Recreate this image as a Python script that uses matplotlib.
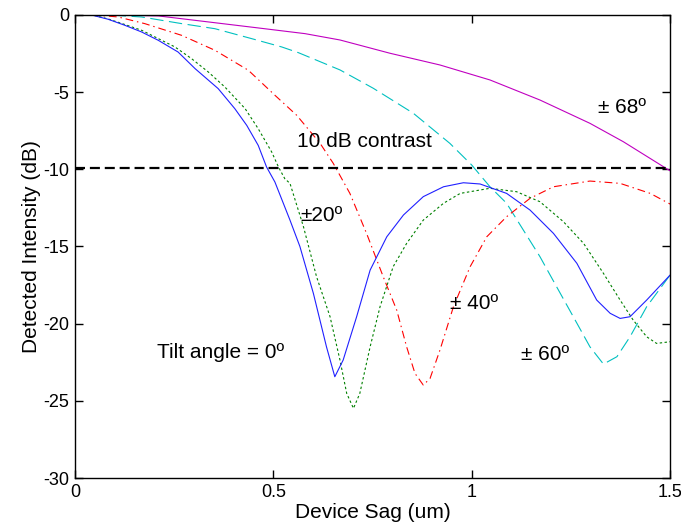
import matplotlib
matplotlib.use('Agg')
import matplotlib.pyplot as plt

plt.rcParams['font.family'] = ['Liberation Sans', 'DejaVu Sans']

# detected intensity (dB) vs device sag (um) for each tilt angle
sag_0 = [0, 0.042, 0.084, 0.126, 0.168, 0.210, 0.260, 0.303, 0.361, 0.403, 0.433, 0.462,
         0.483, 0.504, 0.542, 0.567, 0.601, 0.634, 0.655, 0.676, 0.710, 0.744, 0.786,
         0.828, 0.878, 0.929, 0.979, 1.021, 1.088, 1.147, 1.206, 1.265, 1.315, 1.349,
         1.374, 1.399, 1.441, 1.5]
db_0 = [0, 0, -0.28, -0.67, -1.10, -1.64, -2.40, -3.48, -4.77, -6.07, -7.15, -8.45,
        -9.85, -10.82, -13.29, -15.0, -18.04, -21.5, -23.44, -22.36, -19.55, -16.53, -14.37,
        -12.96, -11.77, -11.13, -10.87, -10.95, -11.56, -12.64, -14.15, -16.09, -18.47, -19.33,
        -19.66, -19.55, -18.47, -16.85]

sag_20 = [0, 0.045, 0.084, 0.126, 0.168, 0.210, 0.252, 0.294, 0.336, 0.378, 0.429, 0.462,
          0.496, 0.513, 0.529, 0.542, 0.576, 0.609, 0.643, 0.668, 0.685, 0.702, 0.718,
          0.744, 0.769, 0.802, 0.836, 0.878, 0.929, 0.971, 1.046, 1.113, 1.172, 1.231,
          1.282, 1.332, 1.374, 1.407, 1.441, 1.466, 1.5]
db_20 = [0, 0, -0.26, -0.62, -0.99, -1.53, -2.07, -2.83, -3.69, -4.67, -6.07, -7.37,
         -8.88, -9.85, -10.61, -10.91, -13.72, -16.96, -19.55, -22.36, -24.52, -25.49, -24.52,
         -21.5, -18.9, -16.31, -14.8, -13.29, -12.2, -11.56, -11.23, -11.45, -12.1, -13.39,
         -14.8, -16.74, -18.47, -19.77, -20.85, -21.28, -21.17]

sag_40 = [0, 0.06, 0.109, 0.176, 0.269, 0.353, 0.437, 0.504, 0.559, 0.618, 0.651, 0.693,
          0.735, 0.777, 0.811, 0.836, 0.857, 0.878, 0.895, 0.920, 0.954, 0.996, 1.038,
          1.088, 1.147, 1.206, 1.298, 1.374, 1.450, 1.5]
db_40 = [0, -0.02, -0.13, -0.56, -1.32, -2.29, -3.58, -5.20, -6.50, -8.32, -9.61, -11.56,
         -14.15, -16.96, -19.12, -21.5, -23.22, -23.98, -23.55, -21.71, -18.9, -16.31, -14.37,
         -13.07, -11.88, -11.13, -10.76, -10.91, -11.56, -12.25]

sag_60 = [0, 0.1, 0.168, 0.269, 0.353, 0.445, 0.521, 0.563, 0.668, 0.752, 0.853, 0.945,
          1.0, 1.046, 1.088, 1.130, 1.172, 1.214, 1.256, 1.298, 1.332, 1.366, 1.399,
          1.441, 1.5]
db_60 = [0, -0.02, -0.13, -0.56, -0.89, -1.53, -2.07, -2.44, -3.56, -4.75, -6.37, -8.32,
         -9.72, -11.13, -12.2, -13.93, -15.66, -17.61, -19.55, -21.5, -22.62, -22.14, -20.85,
         -18.9, -16.85]

sag_68 = [0, 0.1, 0.210, 0.336, 0.462, 0.580, 0.668, 0.794, 0.920, 1.046, 1.172, 1.298,
          1.382, 1.5]
db_68 = [0, -0.01, -0.06, -0.45, -0.84, -1.21, -1.62, -2.48, -3.24, -4.21, -5.51, -7.02,
         -8.21, -10.1]

contrast_db = -9.9

fig = plt.figure(figsize=(6.81, 5.31), dpi=100)
ax = fig.add_axes([0.110, 0.0998, 0.874, 0.872])

lw = 0.8
ax.plot(sag_68, db_68, color='#c000c0', linewidth=lw)
ax.plot(sag_60, db_60, color='#00c0c0', linewidth=lw, dashes=(12, 5))
ax.plot(sag_40, db_40, color='#ff0000', linewidth=lw, dashes=(7, 3.5, 1.3, 3.5))
ax.plot(sag_20, db_20, color='#008000', linewidth=lw, dashes=(2.2, 2.2))
ax.plot(sag_0, db_0, color='#2020ff', linewidth=lw)
ax.axhline(contrast_db, color='black', linewidth=1.6, dashes=(4.5, 2.2))

txt = dict(fontsize=15, color='black')
ax.text(0.56, -8.2, '10 dB contrast', va='center', ha='left', **txt)
ax.text(0.567, -13.0, '±20º', va='center', ha='left', **txt)
ax.text(1.319, -6.0, '± 68º', va='center', ha='left', **txt)
ax.text(0.945, -18.7, '± 40º', va='center', ha='left', **txt)
ax.text(1.125, -22.0, '± 60º', va='center', ha='left', **txt)
ax.text(0.207, -21.9, 'Tilt angle = 0º', va='center', ha='left', **txt)

ax.set_xlim(0, 1.5)
ax.set_ylim(-30, 0)
ax.set_xticks([0, 0.5, 1, 1.5])
ax.set_xticklabels(['0', '0.5', '1', '1.5'])
ax.set_yticks([0, -5, -10, -15, -20, -25, -30])
ax.set_yticklabels(['0', '-5', '-10', '-15', '-20', '-25', '-30'])
ax.tick_params(direction='in', top=True, right=True, length=6, width=1,
               labelsize=13, pad=4)
for s in ax.spines.values():
    s.set_linewidth(1)
ax.set_xlabel('Device Sag (um)', fontsize=15, labelpad=2)
ax.set_ylabel('Detected Intensity (dB)', fontsize=15, labelpad=2)

fig.savefig('out.png', dpi=100)
